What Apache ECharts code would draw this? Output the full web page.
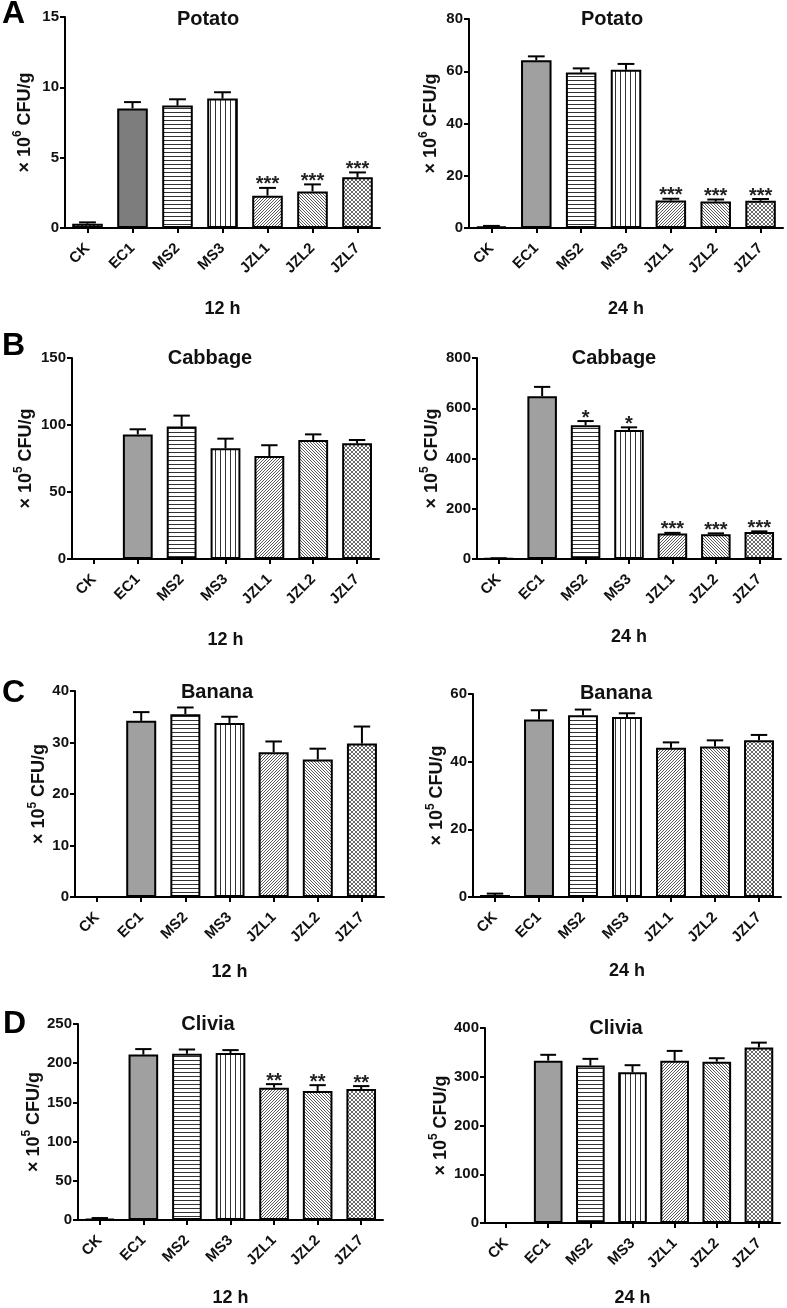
<!DOCTYPE html>
<html>
<head>
<meta charset="utf-8">
<script src="https://cdn.jsdelivr.net/npm/echarts/dist/echarts.min.js"></script>
<style>
html,body{margin:0;padding:0;background:#fff;}
#chart{width:787px;height:1308px;}
</style>
</head>
<body>
<div id="chart"></div>
<script>
// ---------- DATA ----------
const categories = ['CK', 'EC1', 'MS2', 'MS3', 'JZL1', 'JZL2', 'JZL7'];

const potato12 = [0.3, 8.5, 8.7, 9.2, 2.3, 2.6, 3.6];
const potato12Err = [0.1, 0.45, 0.45, 0.45, 0.55, 0.5, 0.35];
const potato12Sig = ['', '', '', '', '***', '***', '***'];

const potato24 = [0.5, 64.2, 59.5, 60.6, 10.5, 10.1, 10.4];
const potato24Err = [0.3, 1.5, 1.6, 2.2, 0.7, 0.8, 0.7];
const potato24Sig = ['', '', '', '', '***', '***', '***'];

const cabbage12 = [0, 93, 98.8, 82.6, 76.9, 88.8, 86.3];
const cabbage12Err = [0, 3.8, 8.2, 7.2, 8, 4.2, 2.5];
const cabbage12Sig = ['', '', '', '', '', '', ''];

const cabbage24 = [2, 648, 532, 513, 101, 99, 107];
const cabbage24Err = [1, 37, 17, 11, 3, 3, 3];
const cabbage24Sig = ['', '', '*', '*', '***', '***', '***'];

const banana12 = [0, 34.2, 35.5, 33.8, 28.1, 26.7, 29.8];
const banana12Err = [0, 1.7, 1.3, 1.2, 2.1, 2.1, 3.3];
const banana12Sig = ['', '', '', '', '', '', ''];

const banana24 = [0.6, 52.5, 53.7, 53.2, 44.1, 44.5, 46.3];
const banana24Err = [0.4, 2.7, 1.7, 1.1, 1.6, 1.8, 1.6];
const banana24Sig = ['', '', '', '', '', '', ''];

const clivia12 = [1.5, 211, 212, 213, 168.8, 164.6, 167];
const clivia12Err = [1, 7, 5.5, 3.7, 4.5, 7.4, 3.8];
const clivia12Sig = ['', '', '', '', '**', '**', '**'];

const clivia24 = [0, 333, 323, 309, 333, 331, 360];
const clivia24Err = [0, 12, 13.7, 14.7, 20, 7, 10];
const clivia24Sig = ['', '', '', '', '', '', ''];

const panelTitles = ['Potato', 'Potato', 'Cabbage', 'Cabbage', 'Banana', 'Banana', 'Clivia', 'Clivia'];
const timeLabels = ['12 h', '24 h', '12 h', '24 h', '12 h', '24 h', '12 h', '24 h'];
const unitExponents = ['6', '6', '5', '5', '5', '5', '5', '5'];
const axisMax = [15, 80, 150, 800, 40, 60, 250, 400];
const axisStep = [5, 20, 50, 200, 10, 20, 50, 100];
const panelLetters = ['A', 'B', 'C', 'D'];

const seriesValues = [potato12, potato24, cabbage12, cabbage24, banana12, banana24, clivia12, clivia24];
const seriesErrors = [potato12Err, potato24Err, cabbage12Err, cabbage24Err, banana12Err, banana24Err, clivia12Err, clivia24Err];
const seriesSig = [potato12Sig, potato24Sig, cabbage12Sig, cabbage24Sig, banana12Sig, banana24Sig, clivia12Sig, clivia24Sig];

// ---------- LAYOUT (pixels) ----------
// [left, top, width, height]
const gridBoxes = [
  [65, 17, 315, 211], [469, 19, 314, 209],
  [72, 358, 307, 201], [477, 358, 304, 201],
  [75, 691, 309, 206], [473, 694, 308, 203],
  [78, 1024, 305, 200], [485, 1028, 295, 196]
];
const titleCenters = [[208, 19], [612, 19], [210, 358], [614, 358], [217, 692], [616, 693], [208, 1024], [616, 1028]];
const yNameGaps = [27, 25, 33, 32, 22, 20, 27, 30];
const xNameGaps = [72, 72, 72, 69, 66, 65, 69, 66];
const letterPos = [[2, 14], [2, 346], [2, 693], [3, 1024]];

const FONT = '"Liberation Sans", Arial, Helvetica, sans-serif';

// ---------- PATTERNS ----------
function makePattern(w, h, bg, fg, pixels) {
  const c = document.createElement('canvas');
  c.width = w; c.height = h;
  const ctx = c.getContext('2d');
  ctx.fillStyle = bg; ctx.fillRect(0, 0, w, h);
  ctx.fillStyle = fg;
  pixels.forEach(p => ctx.fillRect(p[0], p[1], 1, 1));
  return { image: c, repeat: 'repeat' };
}
const horizFill = makePattern(1, 4, '#ffffff', '#333333', [[0, 0]]);
const vertFill = makePattern(5, 1, '#ffffff', '#333333', [[0, 0]]);
const diagUpFill = makePattern(3, 3, '#ffffff', '#5a5a5a', [[0, 2], [1, 1], [2, 0]]);
const diagDownFill = makePattern(3, 3, '#ffffff', '#5a5a5a', [[0, 0], [1, 1], [2, 2]]);
const crossFill = makePattern(4, 4, '#ffffff', '#6a6a6a', [[0, 0], [1, 1], [2, 2], [3, 3], [0, 3], [1, 2], [2, 1], [3, 0]]);

function fillsFor(k) {
  const ec1 = k === 0 ? '#7d7d7d' : '#a0a0a0';
  return [crossFill, ec1, horizFill, vertFill, diagUpFill, diagDownFill, crossFill];
}

// ---------- BUILD OPTION ----------
const grids = [], xAxes = [], yAxes = [], series = [], graphics = [];

for (let k = 0; k < 8; k++) {
  const g = gridBoxes[k];
  grids.push({ left: g[0], top: g[1], width: g[2], height: g[3], containLabel: false });

  xAxes.push({
    type: 'category', gridIndex: k, data: categories,
    axisLine: { show: true, lineStyle: { color: '#000', width: 2 } },
    axisTick: { show: true, alignWithLabel: true, length: 5, lineStyle: { color: '#000', width: 2 } },
    axisLabel: { interval: 0, rotate: 45, margin: 18, color: '#111', fontSize: 15, fontWeight: 'bold', fontFamily: FONT },
    splitLine: { show: false },
    name: timeLabels[k], nameLocation: 'middle', nameGap: xNameGaps[k],
    nameTextStyle: { color: '#111', fontSize: 18, fontWeight: 'bold', fontFamily: FONT }
  });

  yAxes.push({
    type: 'value', gridIndex: k, min: 0, max: axisMax[k], interval: axisStep[k],
    axisLine: { show: true, lineStyle: { color: '#000', width: 2 } },
    axisTick: { show: true, length: 5, lineStyle: { color: '#000', width: 2 } },
    axisLabel: { margin: 6, color: '#111', fontSize: 15, fontWeight: 'bold', fontFamily: FONT },
    splitLine: { show: false },
    name: '{a|× 10}{s|' + unitExponents[k] + '}{a| CFU/g}',
    nameLocation: 'middle', nameGap: yNameGaps[k], nameRotate: 90,
    nameTextStyle: {
      rich: {
        a: { fontSize: 18, fontWeight: 'bold', fontFamily: FONT, color: '#111', lineHeight: 26 },
        s: { fontSize: 12, fontWeight: 'bold', fontFamily: FONT, color: '#111', verticalAlign: 'top', lineHeight: 14 }
      }
    }
  });

  const fills = fillsFor(k);
  const vals = seriesValues[k];
  series.push({
    type: 'bar', xAxisIndex: k, yAxisIndex: k, barWidth: '68%',
    data: vals.map((v, i) => ({ value: v, itemStyle: { color: fills[i] } })),
    itemStyle: { borderColor: '#000', borderWidth: 2 },
    emphasis: { disabled: true },
    z: 2
  });

  const errs = seriesErrors[k];
  const sig = seriesSig[k];
  series.push({
    type: 'custom', xAxisIndex: k, yAxisIndex: k, z: 5,
    data: vals.map((v, i) => [i, v, errs[i]]),
    renderItem: function (params, api) {
      const i = api.value(0), v = api.value(1), e = api.value(2);
      const p0 = api.coord([i, v]);
      const p1 = api.coord([i, v + e]);
      const bw = api.size([1, 0])[0] * 0.68;
      const cw = bw * 0.55;
      const ch = [];
      if (e > 0) {
        ch.push({ type: 'line', shape: { x1: p0[0], y1: p0[1], x2: p1[0], y2: p1[1] }, style: { stroke: '#000', lineWidth: 2 } });
        ch.push({ type: 'line', shape: { x1: p1[0] - cw / 2, y1: p1[1], x2: p1[0] + cw / 2, y2: p1[1] }, style: { stroke: '#000', lineWidth: 2 } });
      }
      const s = sig[params.dataIndex];
      if (s) {
        ch.push({ type: 'text', x: p1[0], y: p1[1] - 3, style: { text: s, fill: '#222', font: 'bold 20px ' + FONT, align: 'center', verticalAlign: 'middle' } });
      }
      return { type: 'group', children: ch };
    }
  });

  graphics.push({
    type: 'text', x: titleCenters[k][0], y: titleCenters[k][1],
    style: { text: panelTitles[k], fill: '#111', font: 'bold 20px ' + FONT, align: 'center', verticalAlign: 'middle' }
  });
}

for (let r = 0; r < 4; r++) {
  graphics.push({
    type: 'text', x: letterPos[r][0], y: letterPos[r][1],
    style: { text: panelLetters[r], fill: '#000', font: 'bold 32px ' + FONT, align: 'left', verticalAlign: 'middle' }
  });
}

const chart = echarts.init(document.getElementById('chart'), null, { renderer: 'canvas' });
chart.setOption({
  backgroundColor: '#ffffff',
  animation: false,
  grid: grids,
  xAxis: xAxes,
  yAxis: yAxes,
  series: series,
  graphic: graphics
});
</script>
</body>
</html>
